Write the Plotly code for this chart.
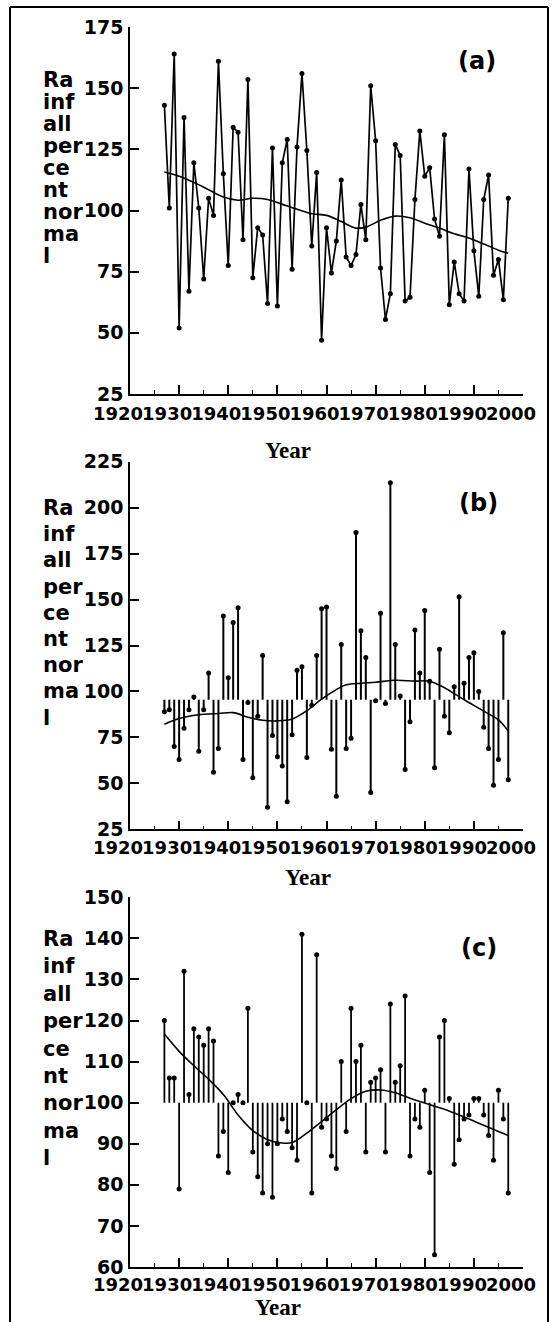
import plotly.graph_objects as go

# ---------------- data ----------------
years = list(range(1927, 1998))

# panel (a): annual rainfall, percent of normal
rain_a = [143, 101, 164, 52, 138, 67, 119.5, 101, 72, 105,
          98, 161, 115, 77.5, 134, 132, 88, 153.5, 72.5, 93,
          90, 62, 125.5, 61, 119.5, 129, 76, 126, 156, 124.5,
          85.5, 115.5, 47, 93, 74.5, 87.5, 112.5, 81, 77.5, 82,
          102.5, 88, 151, 128.5, 76.5, 55.5, 66, 127, 122.5, 63,
          64.5, 104.5, 132.5, 114, 117.5, 96.5, 89.5, 131, 61.5, 79,
          66, 63, 117, 83.5, 65, 104.5, 114.5, 73.5, 80, 63.5, 105]
trend_a_years = [1927, 1930, 1933, 1936, 1939, 1942, 1945, 1948, 1951, 1954, 1957, 1960,
                 1963, 1966, 1968, 1971, 1974, 1977, 1980, 1983, 1986, 1989, 1992, 1995, 1997]
trend_a = [115.7, 114, 111.5, 108.5, 105.5, 104.2, 105, 104.5, 102.5, 100.5, 98.7, 98,
           95.5, 92.8, 93.2, 96, 97.7, 97, 94.8, 92.8, 90.5, 88.8, 86.3, 83.8, 82.5]

# panel (b)
rain_b = [89, 90, 70, 63, 80, 90, 97, 67.5, 90, 110,
          56, 69, 141, 107.5, 137.5, 145.5, 63, 94, 53, 86.5,
          119.5, 37, 76, 64.5, 59.5, 40, 76.5, 111.5, 113.5, 64,
          92.5, 119.5, 145, 146, 68.5, 43, 125.5, 69, 74.5, 186.5,
          133, 118.5, 45, 95, 142.5, 93.5, 213.5, 125.5, 97.5, 57.5,
          83.5, 133.5, 110, 144, 105.5, 58.5, 123, 86.5, 77.5, 102.5,
          151.5, 104.5, 118.5, 121, 100, 80.5, 69, 49, 63, 132, 52]
base_b = 95.5
trend_b_years = [1927, 1930, 1934, 1938, 1941, 1944, 1947, 1950, 1953, 1956, 1959, 1962,
                 1964, 1967, 1970, 1974, 1978, 1981, 1984, 1987, 1990, 1993, 1995, 1997]
trend_b = [82.2, 85.3, 87.3, 88, 88.5, 86, 84.3, 84, 85, 89.5, 95.8, 101,
           103.6, 104.5, 105, 106.1, 105.6, 105.6, 102, 97.2, 92.4, 87.8, 84.5, 78.5]

# panel (c)
rain_c = [120, 106, 106, 79, 132, 102, 118, 116, 114, 118,
          115, 87, 93, 83, 100, 102, 100, 123, 88, 82,
          78, 90, 77, 90, 96, 93, 89, 86, 141, 100,
          78, 136, 94, 96, 87, 84, 110, 93, 123, 110,
          114, 88, 105, 106, 108, 88, 124, 105, 109, 126,
          87, 96, 94, 103, 83, 63, 116, 120, 101, 85,
          91, 96, 97, 101, 101, 97, 92, 86, 103, 96, 78]
base_c = 100
trend_c_years = [1927, 1930, 1933, 1936, 1939, 1942, 1945, 1948, 1951, 1953, 1956, 1959,
                 1962, 1965, 1968, 1971, 1974, 1977, 1980, 1984, 1988, 1992, 1995, 1997]
trend_c = [116.7, 112.5, 109, 105.7, 102, 97, 93.2, 91, 90.2, 90.3, 92.6, 95.4,
           98.3, 101, 102.8, 103.1, 102.4, 101.1, 99.9, 98.4, 96.5, 94.5, 93, 92]

x_ticks = [1920, 1930, 1940, 1950, 1960, 1970, 1980, 1990, 2000]
y_ranges = {"a": [25, 175], "b": [25, 225], "c": [60, 150]}
y_dticks = {"a": 25, "b": 25, "c": 10}
ytitle_parts = ["Ra", "inf", "all", "per", "ce", "nt", "nor", "ma", "l"]
panel_labels = ["(a)", "(b)", "(c)"]
xtitle = "Year"

# ---------------- figure ----------------
W, H = 554, 1322
L, R = 130, 31
plot_w = W - L - R


def py(px):
    return 1 - px / H


def pxx(px):
    return (px - L) / plot_w


def stems(xv, vals, base):
    xs, ys = [], []
    for xi, vi in zip(xv, vals):
        xs += [xi, xi, None]
        ys += [base, vi, None]
    return xs, ys


fig = go.Figure()
BLACK = "#000000"

# (a)
fig.add_trace(go.Scatter(x=years, y=rain_a, mode="lines+markers",
                         line=dict(color=BLACK, width=1.7),
                         marker=dict(color=BLACK, size=5),
                         xaxis="x", yaxis="y", showlegend=False))
fig.add_trace(go.Scatter(x=trend_a_years, y=trend_a, mode="lines",
                         line=dict(color=BLACK, width=1.6, shape="spline"),
                         xaxis="x", yaxis="y", showlegend=False))

# (b)
sx, sy = stems(years, rain_b, base_b)
fig.add_trace(go.Scatter(x=sx, y=sy, mode="lines", line=dict(color=BLACK, width=2),
                         xaxis="x2", yaxis="y2", showlegend=False))
fig.add_trace(go.Scatter(x=years, y=rain_b, mode="markers", marker=dict(color=BLACK, size=5),
                         xaxis="x2", yaxis="y2", showlegend=False))
fig.add_trace(go.Scatter(x=trend_b_years, y=trend_b, mode="lines",
                         line=dict(color=BLACK, width=1.6, shape="spline"),
                         xaxis="x2", yaxis="y2", showlegend=False))

# (c)
sx, sy = stems(years, rain_c, base_c)
fig.add_trace(go.Scatter(x=sx, y=sy, mode="lines", line=dict(color=BLACK, width=1.8),
                         xaxis="x3", yaxis="y3", showlegend=False))
fig.add_trace(go.Scatter(x=years, y=rain_c, mode="markers", marker=dict(color=BLACK, size=5),
                         xaxis="x3", yaxis="y3", showlegend=False))
fig.add_trace(go.Scatter(x=trend_c_years, y=trend_c, mode="lines",
                         line=dict(color=BLACK, width=1.6, shape="spline"),
                         xaxis="x3", yaxis="y3", showlegend=False))

tickfont_x = dict(family="DejaVu Sans", size=18, color=BLACK, weight="bold")
tickfont_y = dict(family="DejaVu Sans", size=19, color=BLACK, weight="bold")

# panel geometry in pixels: (top, bottom)
panels = {"a": (27, 394), "b": (461.7, 829.3), "c": (897.3, 1267)}
standoffs = {"a": 3, "b": 1, "c": 1}

layout = dict(width=W, height=H, paper_bgcolor="white", plot_bgcolor="white",
              margin=dict(l=L, r=R, t=0, b=0, autoexpand=False), showlegend=False)

for i, key in enumerate(["a", "b", "c"]):
    top, bot = panels[key]
    xname = "xaxis" if i == 0 else f"xaxis{i+1}"
    yname = "yaxis" if i == 0 else f"yaxis{i+1}"
    xa = "x" if i == 0 else f"x{i+1}"
    ya = "y" if i == 0 else f"y{i+1}"
    layout[xname] = dict(domain=[0, 1], anchor=ya, range=[1920, 2000],
                         tickvals=x_ticks, ticktext=[str(v) for v in x_ticks],
                         ticks="inside", ticklen=9, tickwidth=1.5, tickcolor=BLACK,
                         minor=dict(ticks="inside", ticklen=4, tickwidth=1.2, dtick=5,
                                    tick0=1925, tickcolor=BLACK),
                         showline=True, linecolor=BLACK, linewidth=1.6,
                         showgrid=False, zeroline=False, tickangle=0,
                         tickfont=tickfont_x, ticklabelshift=-12,
                         ticklabelstandoff=standoffs[key])
    layout[yname] = dict(domain=[py(bot), py(top)], anchor=xa, range=y_ranges[key],
                         dtick=y_dticks[key], tick0=y_ranges[key][0],
                         ticks="inside", ticklen=9, tickwidth=1.5, tickcolor=BLACK,
                         showline=True, linecolor=BLACK, linewidth=1.6,
                         showgrid=False, zeroline=False,
                         tickfont=tickfont_y, ticklabelshift=0, ticklabelstandoff=1)

fig.update_layout(**layout)

annotations = []
# y titles (wrapped text), one line per annotation
ytitle_start = {"a": (80, 22), "b": (508, 26.2), "c": (939, 27.4)}
for key in ["a", "b", "c"]:
    start, step = ytitle_start[key]
    for j, part in enumerate(ytitle_parts):
        annotations.append(dict(text=part, xref="paper", yref="paper",
                                x=pxx(41), y=py(start + j * step),
                                xanchor="left", yanchor="middle", showarrow=False,
                                font=dict(family="DejaVu Sans", size=21, color=BLACK,
                                          weight="bold")))
# panel labels
label_pos = [(477, 61), (478, 503), (479, 947.5)]
for lab, (lx, ly) in zip(panel_labels, label_pos):
    annotations.append(dict(text=lab, xref="paper", yref="paper", x=pxx(lx), y=py(ly),
                            xanchor="center", yanchor="middle", showarrow=False,
                            font=dict(family="DejaVu Sans", size=24, color=BLACK,
                                      weight="bold")))
# x titles
year_pos = [(288, 450), (307.5, 877.5), (277.5, 1307)]
for (lx, ly) in year_pos:
    annotations.append(dict(text=xtitle, xref="paper", yref="paper", x=pxx(lx), y=py(ly),
                            xanchor="center", yanchor="middle", showarrow=False,
                            font=dict(family="Liberation Serif", size=23, color=BLACK,
                                      weight="bold")))
fig.update_layout(annotations=annotations)

# outer frame
fig.add_shape(type="line", xref="paper", yref="paper", x0=pxx(10), x1=pxx(10),
              y0=py(7), y1=py(H + 5), line=dict(color=BLACK, width=2))
fig.add_shape(type="line", xref="paper", yref="paper", x0=pxx(10), x1=pxx(548),
              y0=py(7), y1=py(7), line=dict(color=BLACK, width=2))
fig.add_shape(type="line", xref="paper", yref="paper", x0=pxx(548), x1=pxx(548),
              y0=py(7), y1=py(H + 5), line=dict(color=BLACK, width=2))

fig.write_html("out.html", config={"displayModeBar": False},
               post_script="document.body.style.margin='0';document.body.style.overflow='hidden';")
